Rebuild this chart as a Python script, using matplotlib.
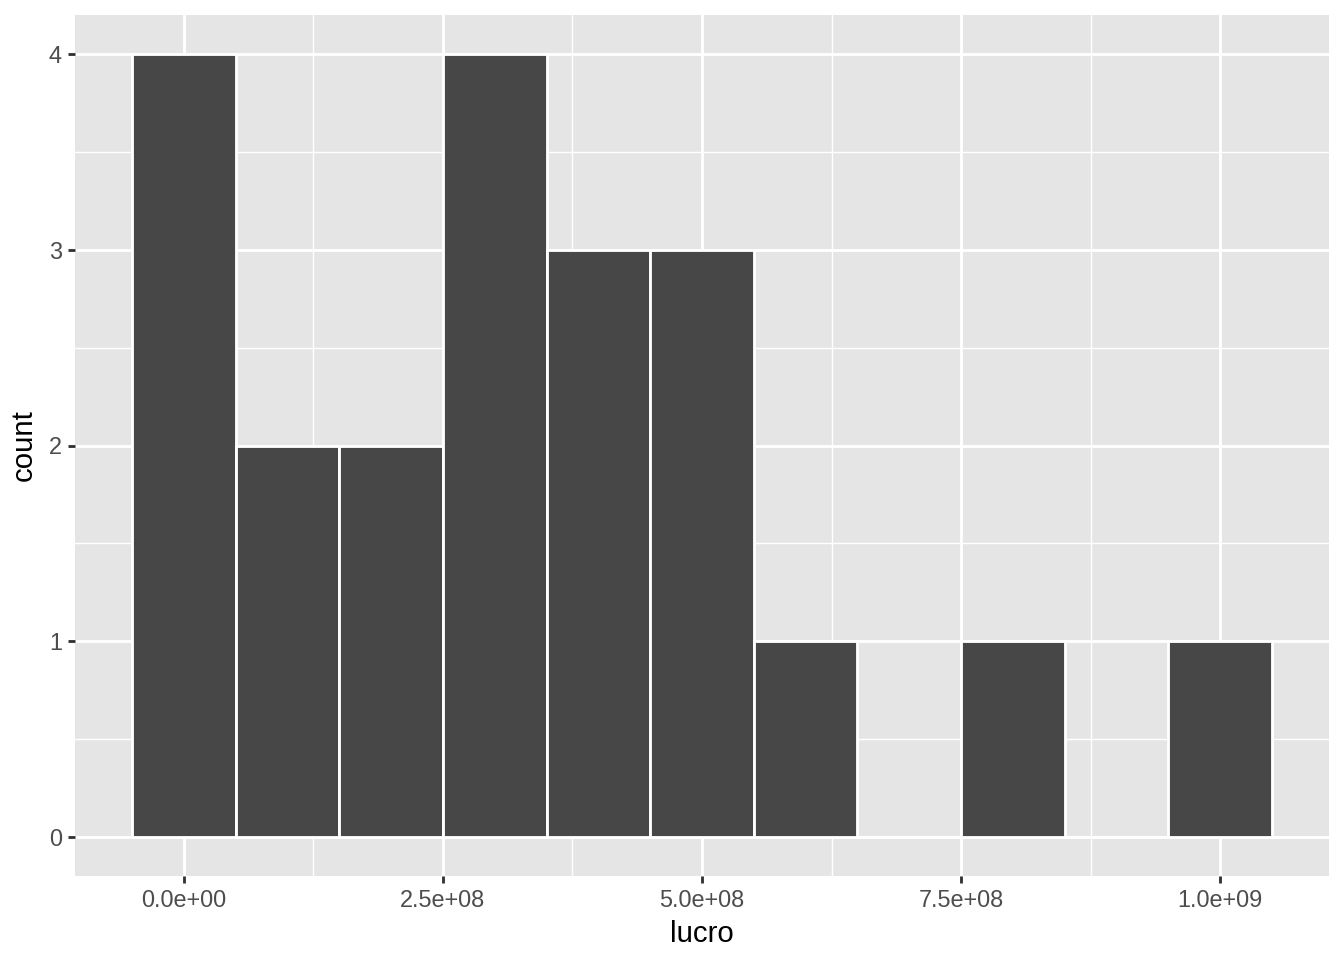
import numpy as np
import matplotlib
matplotlib.use("Agg")
from matplotlib import pyplot as plt
from matplotlib.ticker import FixedLocator

# histogram bins (centres) and counts
bin_centres = [0e8, 1e8, 2e8, 3e8, 4e8, 5e8, 6e8, 7e8, 8e8, 9e8, 10e8]
counts = [4, 2, 2, 4, 3, 3, 1, 0, 1, 0, 1]
bin_width = 1e8

x_ticks = [0, 2.5e8, 5e8, 7.5e8, 1e9]
x_labels = ["0.0e+00", "2.5e+08", "5.0e+08", "7.5e+08", "1.0e+09"]
y_ticks = [0, 1, 2, 3, 4]

plt.rcParams['font.family'] = ['Liberation Sans', 'DejaVu Sans']

fig = plt.figure(figsize=(7, 5), dpi=192)
ax = fig.add_axes([75/1344, 1 - 876/960, (1329 - 75)/1344, (876 - 15)/960])
ax.set_facecolor('#E5E5E5')

ax.bar(bin_centres, counts, width=bin_width, color='#474747',
       edgecolor='white', linewidth=1.07, zorder=3)

lo = bin_centres[0] - bin_width/2
hi = bin_centres[-1] + bin_width/2
pad = (hi - lo) * 0.05
ax.set_xlim(lo - pad, hi + pad)
ax.set_ylim(-0.2, 4.2)

ax.xaxis.set_major_locator(FixedLocator(x_ticks))
ax.set_xticklabels(x_labels)
ax.xaxis.set_minor_locator(FixedLocator([1.25e8, 3.75e8, 6.25e8, 8.75e8]))
ax.yaxis.set_major_locator(FixedLocator(y_ticks))
ax.yaxis.set_minor_locator(FixedLocator([0.5, 1.5, 2.5, 3.5]))

ax.grid(which='major', color='white', linewidth=1.07, zorder=1)
ax.grid(which='minor', color='white', linewidth=0.53, zorder=1)
ax.set_axisbelow(True)
for s in ax.spines.values():
    s.set_visible(False)

ax.tick_params(which='major', length=2.75, width=1.07, color='#333333',
               labelsize=8.8, labelcolor='#4D4D4D', pad=2.2)
ax.tick_params(which='minor', length=0)

ax.set_xlabel("lucro", fontsize=11, color='black', labelpad=3)
ax.set_ylabel("count", fontsize=11, color='black', labelpad=4)

fig.savefig("out.png", dpi=192)
